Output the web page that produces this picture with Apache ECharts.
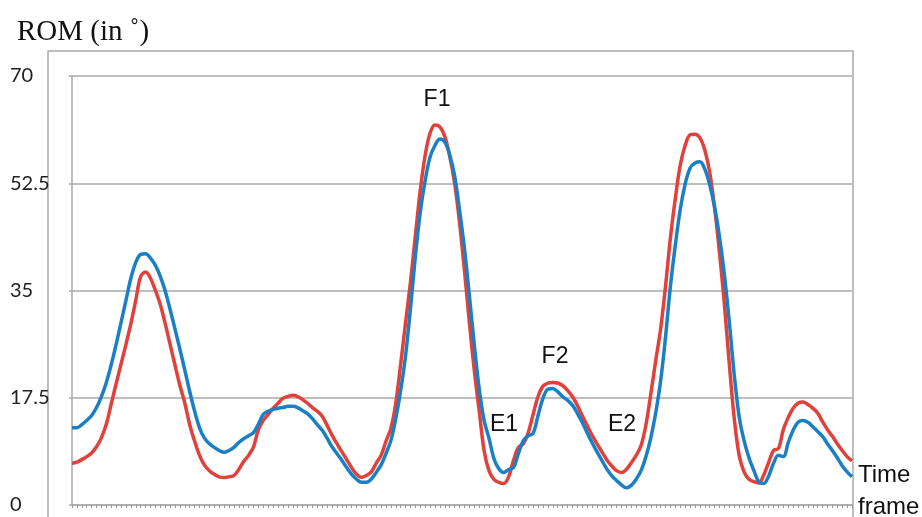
<!DOCTYPE html>
<html>
<head>
<meta charset="utf-8">
<script src="https://cdn.jsdelivr.net/npm/echarts@6/dist/echarts.min.js"></script>
<style>
html,body{margin:0;padding:0;background:#fff;}
#chart{width:922px;height:517px;}
</style>
</head>
<body>
<div id="chart"></div>
<script>
const yTicks = [0, 17.5, 35, 52.5, 70];
const frames = Array.from({length: 160}, (_, i) => String(i + 1));

const redSeries = [
 6.8, 7.0, 7.4, 7.9, 8.5, 9.5, 11.0, 13.2, 16.5, 19.8,
 23.0, 26.2, 29.6, 33.4, 37.3, 38.0, 37.0, 35.0, 32.7, 29.6,
 26.2, 22.8, 19.5, 16.6, 13.1, 10.4, 8.1, 6.5, 5.6, 5.0,
 4.6, 4.5, 4.6, 4.8, 5.8, 7.1, 8.1, 9.5, 12.3, 13.8,
 14.8, 15.8, 16.6, 17.4, 17.7, 17.9, 17.7, 17.2, 16.6, 15.9,
 15.3, 14.5, 13.0, 11.4, 10.0, 8.7, 7.4, 6.1, 5.0, 4.5,
 4.8, 5.4, 6.8, 8.1, 10.4, 12.5, 16.6, 23.0, 29.8, 36.4,
 44.0, 51.4, 57.1, 60.7, 62.0, 61.7, 60.1, 56.9, 52.5, 46.1,
 38.3, 29.8, 22.0, 15.4, 8.9, 5.6, 4.2, 3.7, 3.5, 4.6,
 7.3, 9.4, 10.0, 11.8, 14.8, 17.7, 19.4, 19.9, 20.0, 19.9,
 19.5, 18.7, 17.7, 16.3, 14.6, 13.0, 11.4, 10.0, 8.7, 7.4,
 6.4, 5.6, 5.3, 5.8, 6.9, 8.1, 9.7, 13.1, 18.2, 23.6,
 28.8, 35.8, 43.7, 50.1, 55.5, 58.7, 60.4, 60.5, 59.9, 57.9,
 54.3, 48.4, 41.1, 32.6, 22.9, 14.1, 8.1, 5.4, 4.2, 3.8,
 3.6, 4.9, 6.9, 8.9, 9.2, 12.3, 14.3, 15.8, 16.6, 16.8,
 16.4, 15.8, 15.0, 13.6, 12.3, 11.2, 10.0, 8.9, 7.9, 7.2
];

const blueSeries = [
 12.6, 12.6, 13.1, 13.8, 14.6, 15.9, 17.7, 20.0, 22.9, 26.2,
 29.8, 33.4, 37.0, 39.6, 40.9, 41.0, 40.3, 39.1, 37.3, 34.9,
 31.9, 28.7, 25.4, 22.0, 18.5, 15.3, 12.6, 10.9, 10.0, 9.4,
 8.9, 8.6, 8.9, 9.4, 10.2, 10.8, 11.3, 11.8, 13.2, 14.8,
 15.3, 15.6, 15.8, 15.9, 16.1, 16.1, 15.9, 15.4, 14.9, 14.1,
 13.1, 12.2, 10.9, 9.5, 8.4, 7.3, 6.1, 5.0, 4.2, 3.7,
 3.7, 4.2, 5.3, 6.5, 8.4, 10.5, 14.1, 18.7, 24.4, 32.1,
 40.6, 47.8, 53.0, 56.8, 58.7, 59.7, 59.2, 57.1, 53.7, 48.1,
 41.9, 34.2, 26.2, 19.0, 13.8, 10.9, 7.6, 5.9, 5.3, 5.8,
 6.1, 8.4, 10.5, 11.3, 11.7, 14.6, 17.4, 18.9, 19.0, 18.5,
 17.7, 17.1, 16.3, 15.0, 13.5, 11.8, 10.2, 8.7, 7.3, 5.9,
 4.8, 4.0, 3.3, 2.8, 3.2, 4.2, 5.6, 7.9, 11.0, 15.1,
 20.3, 27.5, 35.8, 42.5, 48.3, 52.4, 55.0, 55.8, 56.0, 54.8,
 52.2, 48.6, 43.7, 37.5, 29.8, 21.2, 14.4, 10.5, 7.7, 5.6,
 3.8, 3.5, 4.7, 6.8, 8.1, 7.9, 10.2, 12.2, 13.5, 13.8,
 13.5, 12.8, 12.0, 11.2, 10.0, 8.9, 7.7, 6.4, 5.4, 4.6
];

const annotations = [
  {text: 'F1', x: 437, y: 100},
  {text: 'F2', x: 555, y: 357},
  {text: 'E1', x: 504, y: 425},
  {text: 'E2', x: 622, y: 425}
];

const chart = echarts.init(document.getElementById('chart'), null, {renderer: 'canvas'});
const gray = '#a9a9a9';
const textGraphics = annotations.map(a => ({
  type: 'text', x: a.x, y: a.y, z: 100,
  style: {text: a.text, fill: '#111', font: '23px "Liberation Sans", Arial, sans-serif', textAlign: 'center', textVerticalAlign: 'middle'}
}));

chart.setOption({
  animation: false,
  backgroundColor: '#fff',
  grid: {left: 72, right: 70, top: 76, bottom: 12, containLabel: false},
  xAxis: {
    type: 'category',
    data: frames,
    boundaryGap: false,
    axisLine: {show: true, lineStyle: {color: gray, width: 1.5}},
    axisTick: {show: true, interval: 0, length: 3, lineStyle: {color: '#999', width: 1}},
    axisLabel: {show: false},
    splitLine: {show: false}
  },
  yAxis: {
    type: 'value',
    min: 0, max: 70, interval: 17.5,
    axisLine: {show: true, lineStyle: {color: gray, width: 1.5}},
    axisTick: {show: true, length: 3, lineStyle: {color: gray, width: 1.5}},
    axisLabel: {
      show: true, align: 'left', margin: 62, color: '#222',
      fontFamily: 'Lato, "Liberation Sans", sans-serif', fontSize: 20,
      formatter: v => yTicks.indexOf(v) >= 0 ? String(v) : ''
    },
    splitLine: {show: true, lineStyle: {color: gray, width: 1.5}}
  },
  series: [
    {name: 'Series 1', type: 'line', data: redSeries, smooth: 0.35, symbol: 'none',
     lineStyle: {color: '#e0413a', width: 3.5}, z: 2},
    {name: 'Series 2', type: 'line', data: blueSeries, smooth: 0.35, symbol: 'none',
     lineStyle: {color: '#1b7fc6', width: 3.5}, z: 3}
  ],
  graphic: [
    {type: 'rect', shape: {x: 48, y: 51, width: 805, height: 500}, z: 0,
     style: {fill: 'none', stroke: gray, lineWidth: 1.5}},
    {type: 'text', x: 17, y: 32, z: 100,
     style: {text: 'ROM (in \u02DA)', fill: '#111', font: '29px "Liberation Serif", "DejaVu Serif", serif', textVerticalAlign: 'middle'}},
    {type: 'text', x: 858, y: 475, z: 100,
     style: {text: 'Time', fill: '#111', font: '24px "Liberation Sans", Arial, sans-serif', textVerticalAlign: 'middle'}},
    {type: 'text', x: 858, y: 507, z: 100,
     style: {text: 'frame', fill: '#111', font: '24px "Liberation Sans", Arial, sans-serif', textVerticalAlign: 'middle'}}
  ].concat(textGraphics)
});
</script>
</body>
</html>
